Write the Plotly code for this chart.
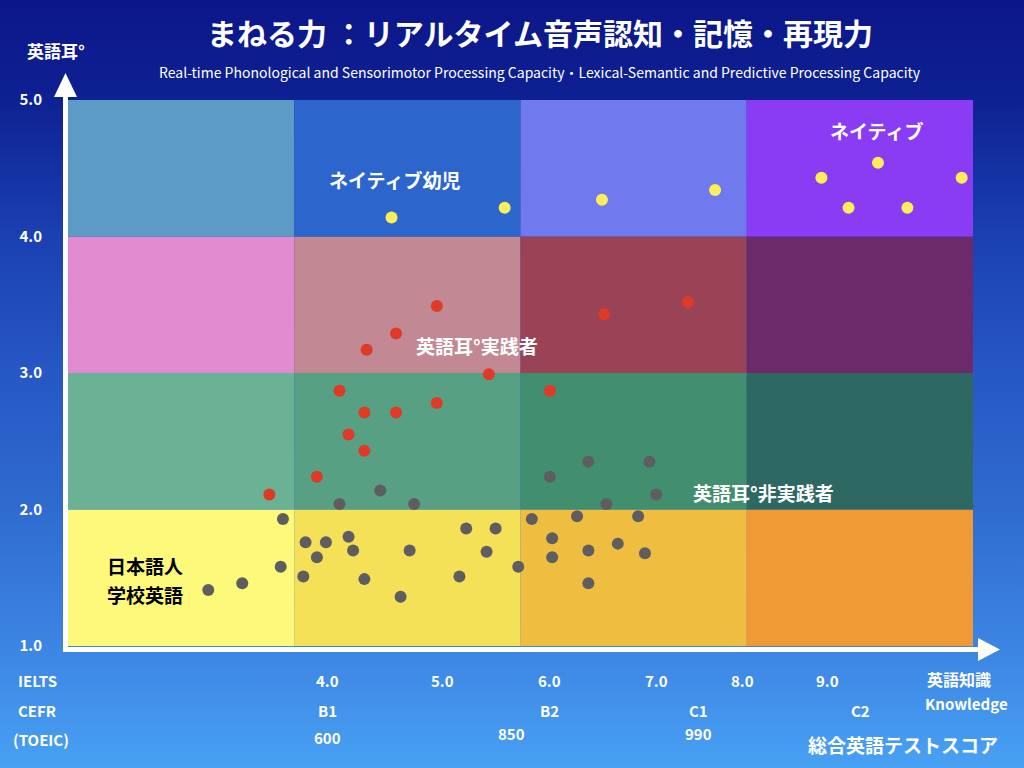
import base64
import plotly.graph_objects as go

W, H = 1024, 768
L, R, T, B = 68, 51, 100, 122
PW, PH = W - L - R, H - T - B
FONT = "Noto Sans CJK JP"


def px(x):  # pixel x -> paper x
    return (x - L) / PW


def py(y):  # pixel y -> paper y
    return 1 - (y - T) / PH


# grid of levels: 4 columns (knowledge) x 4 rows (英語耳°)
col_edges = [0, 1, 2, 3, 4]
row_edges = [1, 2, 3, 4, 5]
cell_colors = [  # bottom row first
    ["#fdf97b", "#f5e158", "#efbd40", "#f09a36"],
    ["#6bb195", "#58a083", "#428f70", "#2d6862"],
    ["#e18bd1", "#c28893", "#9a4256", "#6d2a6b"],
    ["#5b9bc5", "#2c66cc", "#7079ee", "#8a3cf4"],
]

# ネイティブ (yellow)
native_x = [1.43, 1.93, 2.36, 2.86, 3.33, 3.58, 3.95, 3.45, 3.71]
native_y = [4.14, 4.21, 4.27, 4.34, 4.43, 4.54, 4.43, 4.21, 4.21]

# 英語耳°実践者 (red)
prac_x = [1.63, 1.45, 1.32, 1.86, 1.20, 1.63, 1.31, 1.45, 1.24, 1.31, 1.10, 0.89,
          2.74, 2.37, 2.13]
prac_y = [3.49, 3.29, 3.17, 2.99, 2.87, 2.78, 2.71, 2.71, 2.55, 2.43, 2.24, 2.11,
          3.52, 3.43, 2.87]

# 非実践者 / 学校英語 (gray)
non_x = [1.38, 1.20, 1.53, 0.95, 1.05, 1.14, 1.24, 1.26, 1.10, 1.51, 1.76, 1.89,
         1.85, 1.99, 0.94, 1.04, 1.31, 1.73, 1.47, 0.77, 0.62,
         2.30, 2.57, 2.13, 2.60, 2.38, 2.25, 2.52, 2.05, 2.14, 2.43, 2.30, 2.14,
         2.55, 2.30]
non_y = [2.14, 2.04, 2.04, 1.93, 1.76, 1.76, 1.80, 1.70, 1.65, 1.70, 1.86, 1.86,
         1.69, 1.58, 1.58, 1.51, 1.49, 1.51, 1.36, 1.46, 1.41,
         2.35, 2.35, 2.24, 2.11, 2.04, 1.95, 1.95, 1.93, 1.79, 1.75, 1.70, 1.65,
         1.68, 1.46]

y_ticks = [1, 2, 3, 4, 5]
y_ticktext = ["1.0", "2.0", "3.0", "4.0", "5.0"]

ielts_text = ["4.0", "5.0", "6.0", "7.0", "8.0", "9.0"]
ielts_pos = [1.146, 1.654, 2.130, 2.603, 2.980, 3.356]
cefr_text = ["B1", "B2", "C1", "C2"]
cefr_pos = [1.146, 2.130, 2.785, 3.502]
toeic_text = ["600", "850", "990"]
toeic_pos = [1.146, 1.962, 2.785]

# background gradient as an inline svg
svg = (
    f'<svg xmlns="http://www.w3.org/2000/svg" width="{W}" height="{H}">'
    '<defs><linearGradient id="g" x1="0" y1="0" x2="0" y2="1">'
    '<stop offset="0" stop-color="#0b1689"/>'
    '<stop offset="0.13" stop-color="#0e2192"/>'
    '<stop offset="0.3" stop-color="#1a3fb0"/>'
    '<stop offset="0.48" stop-color="#2657c4"/>'
    '<stop offset="0.66" stop-color="#2f6bcf"/>'
    '<stop offset="0.85" stop-color="#3d86e4"/>'
    '<stop offset="1" stop-color="#48a1f3"/>'
    '</linearGradient></defs>'
    f'<rect width="{W}" height="{H}" fill="url(#g)"/></svg>'
)
bg_src = "data:image/svg+xml;base64," + base64.b64encode(svg.encode()).decode()

fig = go.Figure()

dot = dict(mode="markers", hoverinfo="skip", showlegend=False)
fig.add_trace(go.Scatter(x=non_x, y=non_y, marker=dict(size=12, color="#5e5e61"), **dot))
fig.add_trace(go.Scatter(x=prac_x, y=prac_y, marker=dict(size=12, color="#de3a26"), **dot))
fig.add_trace(go.Scatter(x=native_x, y=native_y, marker=dict(size=12, color="#fbee5a"), **dot))

shapes = []
for r in range(4):
    for c in range(4):
        shapes.append(dict(type="rect", xref="x", yref="y", layer="below",
                           x0=col_edges[c], x1=col_edges[c + 1],
                           y0=row_edges[r], y1=row_edges[r + 1],
                           fillcolor=cell_colors[r][c], line=dict(width=0)))

# white axis arrows
shapes += [
    dict(type="line", xref="paper", yref="paper", x0=px(65.5), x1=px(65.5),
         y0=py(652), y1=py(96), line=dict(color="white", width=5)),
    dict(type="path", xref="paper", yref="paper", fillcolor="white", line=dict(width=0),
         path=f"M {px(54)},{py(97)} L {px(77)},{py(97)} L {px(65.5)},{py(73)} Z"),
    dict(type="line", xref="paper", yref="paper", x0=px(63), x1=px(979),
         y0=py(649.5), y1=py(649.5), line=dict(color="white", width=5)),
    dict(type="path", xref="paper", yref="paper", fillcolor="white", line=dict(width=0),
         path=f"M {px(978)},{py(638)} L {px(978)},{py(661)} L {px(1000)},{py(649.5)} Z"),
]


def note(text, x, y, size, color="white", xref="x", yref="y", xanchor="center", bold=True):
    return dict(text=f"<b>{text}</b>" if bold else text, x=x, y=y, xref=xref, yref=yref,
                xanchor=xanchor, yanchor="middle", showarrow=False,
                font=dict(family=FONT, size=size, color=color))


ann = [
    note("まねる力 ：リアルタイム音声認知・記憶・再現力", px(540), py(32), 30,
         xref="paper", yref="paper"),
    note("Real-time Phonological and Sensorimotor Processing Capacity・"
         "Lexical-Semantic and Predictive Processing Capacity",
         px(540), py(72), 14, xref="paper", yref="paper", bold=False),
    note("英語耳°", px(56), py(50), 17, xref="paper", yref="paper"),
    note("ネイティブ幼児", 1.445, 4.42, 19),
    note("ネイティブ", 3.572, 4.773, 19),
    note("英語耳°実践者", 1.808, 3.198, 19),
    note("英語耳°非実践者", 3.073, 2.128, 19),
    note("日本語人", 0.163, 1.588, 19, color="black", xanchor="left"),
    note("学校英語", 0.163, 1.379, 19, color="black", xanchor="left"),
    note("IELTS", px(16), py(680), 15, xref="paper", yref="paper", xanchor="left"),
    note("CEFR", px(16), py(710), 15, xref="paper", yref="paper", xanchor="left"),
    note("(TOEIC)", px(11), py(739), 15, xref="paper", yref="paper", xanchor="left"),
    note("英語知識", px(959), py(679), 16, xref="paper", yref="paper"),
    note("Knowledge", px(966), py(703), 15, xref="paper", yref="paper"),
    note("総合英語テストスコア", px(903), py(744), 19, xref="paper", yref="paper"),
]
for t, p in zip(ielts_text, ielts_pos):
    ann.append(note(t, p, py(680), 15, yref="paper"))
for t, p in zip(cefr_text, cefr_pos):
    ann.append(note(t, p, py(710), 15, yref="paper"))
for t, p, yy in zip(toeic_text, toeic_pos, [737, 733, 733]):
    ann.append(note(t, p, py(yy), 15, yref="paper"))

fig.update_layout(
    width=W, height=H,
    margin=dict(l=L, r=R, t=T, b=B),
    paper_bgcolor="#2657c4",
    plot_bgcolor="rgba(0,0,0,0)",
    font=dict(family=FONT, color="white"),
    xaxis=dict(range=[0, 4], visible=False, fixedrange=True),
    yaxis=dict(range=[1, 5], tickvals=y_ticks, ticktext=[f"<b>{t}</b>" for t in y_ticktext],
               tickfont=dict(family=FONT, size=15, color="white"),
               ticks="outside", ticklen=22, tickcolor="rgba(0,0,0,0)",
               showgrid=False, zeroline=False, showline=False, fixedrange=True),
    shapes=shapes,
    annotations=ann,
    images=[dict(source=bg_src, xref="paper", yref="paper", x=px(0), y=py(0),
                 sizex=W / PW, sizey=H / PH, xanchor="left", yanchor="top",
                 sizing="stretch", layer="below")],
)

# the page's default 8px body margin would shift the figure off the window
fig.write_html("out.html", config={"displayModeBar": False},
               post_script="document.body.style.margin='0';")
